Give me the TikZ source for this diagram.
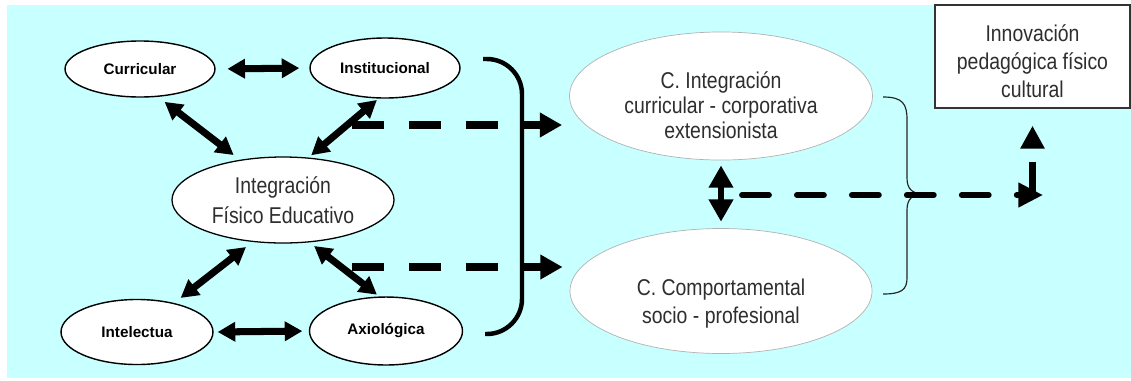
\documentclass[tikz,border=0pt]{standalone}
\usepackage{fontspec}
\setmainfont{Liberation Sans}
\newfontfamily\narrowsans{Liberation Sans}[FakeStretch=0.85]
\usetikzlibrary{shapes.geometric,arrows.meta}
\definecolor{bgcyan}{HTML}{C8FFFF}
\definecolor{txtgray}{HTML}{2E2E2E}
\begin{document}
\begin{tikzpicture}[x=0.03cm,y=-0.03cm,
  small/.style={ellipse, draw=black, line width=1.2pt, fill=white, inner sep=0pt,
    font=\bfseries\fontsize{13}{15}\selectfont},
  mid/.style={ellipse, draw=black, line width=1.1pt, fill=white, inner sep=0pt, align=center,
    text=txtgray, font=\narrowsans\fontsize{19.5}{25.5}\selectfont},
  big/.style={ellipse, draw=gray!60, line width=0.6pt, fill=white, inner sep=0pt, align=center,
    text=txtgray, font=\narrowsans\fontsize{19.5}{21}\selectfont},
  goal/.style={rectangle, draw=black!80, line width=1.2pt, fill=white, inner sep=0pt, align=center,
    text=txtgray, font=\narrowsans\fontsize{19.5}{24}\selectfont},
  dbl/.style={line width=6pt, {Triangle[length=15pt,width=16pt]}-{Triangle[length=15pt,width=16pt]}},
  thickdash/.style={line width=7pt, dash pattern=on 27.3pt off 21.3pt},
  solidarr/.style={line width=7pt, -{Triangle[length=19pt,width=20pt]}},
  vdbl/.style={line width=5pt, {Triangle[length=19pt,width=20pt]}-{Triangle[length=19pt,width=20pt]}},
  rdash/.style={line width=5pt, line cap=round, dash pattern=on 23pt off 23.9pt,
    -{Triangle[length=21pt,width=20pt]}},
  uparr/.style={line width=6pt, dash pattern=on 28.2pt off 20pt, -{Triangle[length=19.6pt,width=19.6pt]}},
  brace/.style={line width=1pt, draw=black!85}
]
\useasboundingbox (0,0) rectangle (1131,380);
\fill[bgcyan] (7,5) rectangle (1131,378);

% nodes
\node[small, minimum width=128pt, minimum height=47.8pt] (cur) at (140,69) {Curricular};
\node[small, minimum width=128pt, minimum height=51.2pt] (ins) at (385,68) {Institucional};
\node[mid, minimum width=189.5pt, minimum height=73.4pt] (ife) at (283,200) {Integración\\Físico Educativo};
\node[small, minimum width=129.7pt, minimum height=55.5pt] (int) at (137,332) {Intelectua};
\node[small, minimum width=130.6pt, minimum height=58pt] (axi) at (386,331) {Axiológica};
\node[big, minimum width=258.6pt, minimum height=109.3pt] (cie) at (721,96)
  {\rule{0pt}{30pt}C. Integración\\curricular - corporativa\\extensionista};
\node[big, minimum width=257.8pt, minimum height=106.7pt] (ccs) at (721,291)
  {\rule{0pt}{36pt}C. Comportamental\\[3pt]socio - profesional};
\node[goal, minimum width=166.4pt, minimum height=87.9pt] (box) at (1032.5,56.5)
  {\rule{0pt}{23pt}Innovación\\pedagógica físico\\cultural};

% double arrows among the left ellipses
\draw[dbl, shorten <=10pt, shorten >=8.5pt] (cur.east) -- (ins.west);
\draw[dbl, shorten <=7pt, shorten >=6.6pt] (cur.-57) -- (ife.137);
\draw[dbl, shorten <=1.8pt, shorten >=3pt] (ins.-102) -- (ife.59);
\draw[dbl, shorten <=7pt, shorten >=7pt] (ife.-126) -- (int.38);
\draw[dbl, shorten <=5pt, shorten >=2.5pt] (ife.-58) -- (axi.101);
\draw[dbl, shorten <=3.4pt, shorten >=5.5pt] (int.east) -- (axi.west);

% left bracket and dashed arrows
\coordinate (d1) at (352,125);
\coordinate (bt) at (522,125);
\coordinate (d2) at (352,267);
\coordinate (bb) at (522,267);
\coordinate (lb1) at (483,59);
\coordinate (lb2) at (485,334);
\draw[line width=3.8pt, rounded corners=30pt] (lb1) -- (lb1 -| bt) -- (lb2 -| bt) -- (lb2);
\draw[thickdash] (d1) -- (bt);
\draw[thickdash] (d2) -- (bb);
\draw[solidarr, shorten >=6pt] (bt) -- (bt -| cie.west);
\draw[solidarr, shorten >=6pt] (bb) -- (bb -| ccs.west);

% vertical double arrow between the C ellipses
\draw[vdbl, shorten <=4.3pt, shorten >=5.5pt] (cie.south) -- (ccs.north);

% right brace
\coordinate (rb1) at (883,97);
\coordinate (rtip) at (925,194);
\coordinate (rb2) at (883,294);
\draw[brace] (rb1) .. controls (903,97) and (907,104) .. (907,120)
  -- (907,178) .. controls (907,189) and (912,194) .. (rtip)
  .. controls (912,194) and (907,199) .. (907,210)
  -- (907,278) .. controls (907,290) and (901,294) .. (rb2);

% dashed arrows to the goal box
\coordinate (d3) at (742,195);
\coordinate (hend) at (1043,195);
\coordinate (corner) at (box.south |- hend);
\draw[rdash] (d3) -- (hend);
\draw[uparr, shorten >=14.5pt] (corner) -- (box.south);
\end{tikzpicture}
\end{document}
